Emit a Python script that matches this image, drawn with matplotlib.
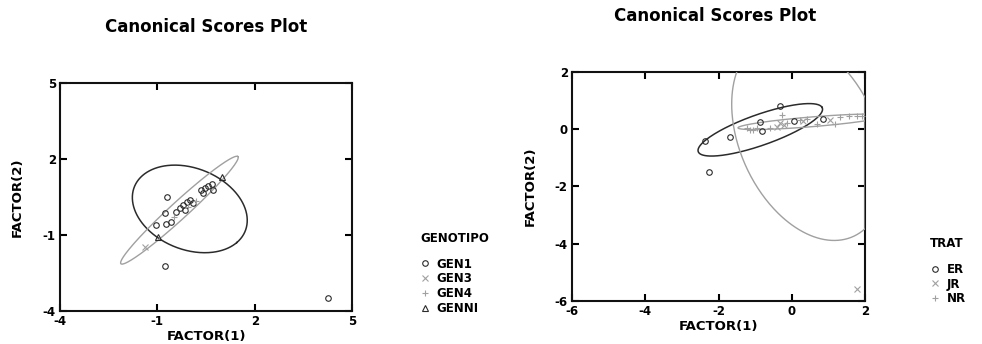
import numpy as np
import matplotlib
matplotlib.use("Agg")
import matplotlib.pyplot as plt
from matplotlib.lines import Line2D

plt.rcParams['font.family'] = ['DejaVu Sans']
plt.rcParams['font.weight'] = 'bold'
plt.rcParams['axes.titleweight'] = 'bold'
plt.rcParams['axes.labelweight'] = 'bold'
plt.rcParams['axes.unicode_minus'] = False

DARK = '#2b2b2b'
GRAY = '#a0a0a0'

# ---- left panel: GENOTIPO ----
gen1_x = [-0.70, -0.77, -1.03, -0.72, -0.57, -0.41, -0.31, -0.20, -0.10, 0.00,
          0.10, -0.15, 0.36, 0.47, 0.57, 0.67, 0.72, 0.41, -0.77, 4.26]
gen1_y = [0.49, -0.15, -0.62, -0.55, -0.49, -0.09, 0.05, 0.18, 0.31, 0.38,
          0.25, -0.02, 0.78, 0.84, 0.94, 1.02, 0.78, 0.67, -2.24, -3.47]
gen3_x = [-1.39]
gen3_y = [-1.48]
gen4_x = [-0.50, -0.05, 0.20]
gen4_y = [-0.30, 0.12, 0.35]
genni_x = [-0.98, 0.98]
genni_y = [-1.08, 1.28]

# ellipses: center x, center y, semi-major, semi-minor, angle (deg)
ell_gen1 = [0.00, 0.03, 1.965, 1.504, -42.4]
ell_gen4 = [-0.32, -0.02, 2.78, 0.30, 49.7]

# ---- right panel: TRAT ----
er_x = [-2.36, -1.70, -2.25, -0.32, -0.86, -0.80, 0.06, 0.84]
er_y = [-0.41, -0.28, -1.48, 0.80, 0.27, -0.06, 0.29, 0.36]
jr_x = [-0.40, -0.32, -0.20, 0.30, 1.05, 1.77]
jr_y = [0.08, 0.22, 0.15, 0.30, 0.33, -5.57]
nr_x = [-1.23, -1.14, -1.05, -0.95, -0.59, -0.26, -0.14, 0.23, 0.41, 0.68,
        1.18, 1.32, 1.55, 1.77, 1.91]
nr_y = [0.04, -0.04, -0.02, 0.04, 0.04, 0.50, 0.21, 0.33, 0.35, 0.18,
        0.18, 0.42, 0.48, 0.47, 0.45]

ell_er = [-0.86, -0.02, 1.86, 0.52, 25.0]
ell_jr = [0.46, -0.31, 3.67, 1.93, 105.4]
ell_nr = [0.55, 0.26, 2.03, 0.17, 6.0]


def ellipse_xy(p, n=400):
    cx, cy, a, b, ang = p
    t = np.linspace(0, 2 * np.pi, n)
    th = np.deg2rad(ang)
    x = cx + a * np.cos(t) * np.cos(th) - b * np.sin(t) * np.sin(th)
    y = cy + a * np.cos(t) * np.sin(th) + b * np.sin(t) * np.cos(th)
    return x, y


def style_axes(ax, lim, ticks, ylab_x):
    ax.set_xlim(lim)
    ax.set_ylim(lim)
    ax.set_xticks(ticks)
    ax.set_yticks(ticks)
    ax.tick_params(direction='in', length=5, width=1.5, labelsize=8.5,
                   top=True, right=True, pad=3)
    for lab in ax.get_xticklabels() + ax.get_yticklabels():
        lab.set_fontweight('bold')
    for s in ax.spines.values():
        s.set_linewidth(1.5)
        s.set_color('#111111')
    ax.set_xlabel('FACTOR(1)', fontsize=9.5)
    ax.set_ylabel('FACTOR(2)', fontsize=9.5)
    ax.xaxis.set_label_coords(0.5, -0.085)
    ax.yaxis.set_label_coords(ylab_x, 0.5)


fig = plt.figure(figsize=(9.82, 3.44), dpi=100)

ax1 = fig.add_axes([0.0611, 0.0959, 0.2974, 0.6628])
ex, ey = ellipse_xy(ell_gen1)
ax1.plot(ex, ey, color=DARK, lw=1.1, zorder=3)
ex, ey = ellipse_xy(ell_gen4)
ax1.plot(ex, ey, color=GRAY, lw=1.0, zorder=3)
mk = dict(ms=4, mew=0.8, ls='none', mfc='none', zorder=4)
ax1.plot(gen1_x, gen1_y, marker='o', color=DARK, **mk)
ax1.plot(gen3_x, gen3_y, marker='x', color=GRAY, **mk)
ax1.plot(gen4_x, gen4_y, marker='+', color=GRAY, **mk)
ax1.plot(genni_x, genni_y, marker='^', color=DARK, **mk)
style_axes(ax1, (-4, 5), [-4, -1, 2, 5], -0.125)
ax1.set_title('Canonical Scores Plot', fontsize=12, pad=37)

ax2 = fig.add_axes([0.5825, 0.125, 0.2984, 0.6657])
ex, ey = ellipse_xy(ell_er)
ax2.plot(ex, ey, color=DARK, lw=1.1, zorder=3)
ex, ey = ellipse_xy(ell_jr)
ax2.plot(np.minimum(ex, 2), ey, color=GRAY, lw=1.0, zorder=3)
ex, ey = ellipse_xy(ell_nr)
ax2.plot(ex, ey, color=GRAY, lw=1.0, zorder=3)
ax2.plot(er_x, er_y, marker='o', color=DARK, **mk)
ax2.plot(jr_x, jr_y, marker='x', color=GRAY, **mk)
ax2.plot(nr_x, nr_y, marker='+', color=GRAY, **mk)
style_axes(ax2, (-6, 2), [-6, -4, -2, 0, 2], -0.12)
ax2.set_title('Canonical Scores Plot', fontsize=12, pad=37, x=0.49)


# legends
def handles(specs):
    return [Line2D([], [], marker=m, color=c, ls='none', ms=4, mew=0.8,
                   mfc='none', label=l) for m, c, l in specs]


leg_kw = dict(loc='upper left', frameon=False, fontsize=8.5, title_fontsize=8.5,
              alignment='left', handlelength=0.8, handletextpad=0.6,
              labelspacing=0.15, borderpad=0, borderaxespad=0)

leg1 = fig.legend(handles=handles([('o', DARK, 'GEN1'), ('x', GRAY, 'GEN3'),
                                   ('+', GRAY, 'GEN4'), ('^', DARK, 'GENNI')]),
                  title='GENOTIPO\n', bbox_to_anchor=(0.428, 0.326), **leg_kw)
leg2 = fig.legend(handles=handles([('o', DARK, 'ER'), ('x', GRAY, 'JR'),
                                   ('+', GRAY, 'NR')]),
                  title='TRAT\n', bbox_to_anchor=(0.947, 0.311), **leg_kw)
for leg in (leg1, leg2):
    leg.get_title().set_weight('bold')
    leg.get_title().set_linespacing(0.8)

fig.savefig('out.png', dpi=100)
